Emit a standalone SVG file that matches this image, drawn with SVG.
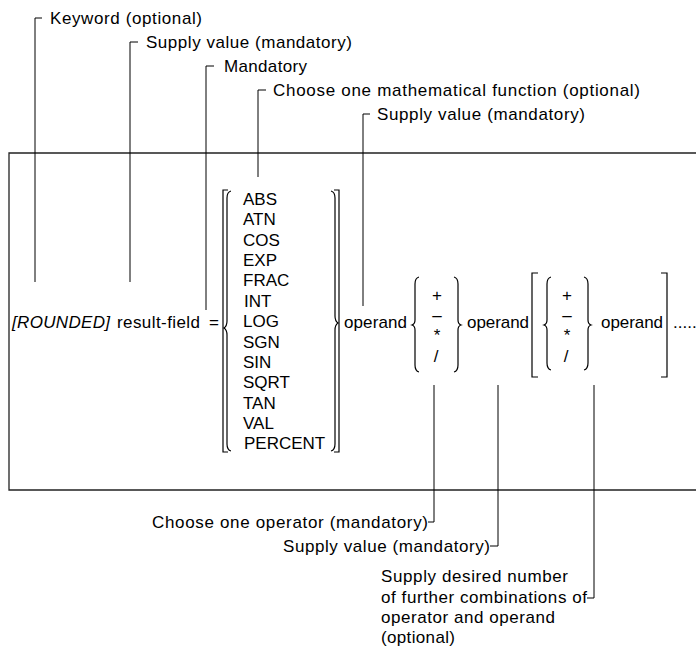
<svg xmlns="http://www.w3.org/2000/svg" width="696" height="654" viewBox="0 0 696 654">
<style>
  text { font-family: "Liberation Sans", Arial, sans-serif; font-size: 17px; fill: #000; }
  .it { font-style: italic; }
  .mid { text-anchor: middle; }
  .ln { stroke: #000; stroke-width: 1; fill: none; }
  .frame { stroke: #222; stroke-width: 1.3; fill: none; }
  .br { stroke: #000; stroke-width: 1.2; fill: none; }
</style>
<rect width="696" height="654" fill="#fff"/>

<g id="frame">
  <path class="frame" d="M700,153 H9 V490 H700"/>
</g>

<g id="connectors">
  <path class="ln" d="M42,18 H35 V282"/>
  <path class="ln" d="M138,42 H130 V282"/>
  <path class="ln" d="M214,66 H206 V310"/>
  <path class="ln" d="M266,90 H258 V177"/>
  <path class="ln" d="M370,114 H363 V306"/>
  <path class="ln" d="M434,385 V522 H428"/>
  <path class="ln" d="M498,385 V546 H490"/>
  <path class="ln" d="M594,385 V598 H587"/>
</g>

<g id="label-keyword"><text x="50" y="24" textLength="152" lengthAdjust="spacing">Keyword (optional)</text></g>
<g id="label-supply-1"><text x="146" y="48" textLength="206" lengthAdjust="spacing">Supply value (mandatory)</text></g>
<g id="label-mandatory"><text x="224" y="72" textLength="83" lengthAdjust="spacing">Mandatory</text></g>
<g id="label-function"><text x="273" y="96" textLength="367" lengthAdjust="spacing">Choose one mathematical function (optional)</text></g>
<g id="label-supply-2"><text x="377" y="120" textLength="208" lengthAdjust="spacing">Supply value (mandatory)</text></g>

<g id="syntax-result">
  <text x="12" y="328" class="it" textLength="98" lengthAdjust="spacing">[ROUNDED]</text>
  <text x="117" y="328" textLength="83" lengthAdjust="spacing">result-field</text>
  <text x="209" y="328">=</text>
</g>

<g id="syntax-functions">
  <path class="br" d="M228,190 H223 V452 H228"/>
  <path class="br" d="M231,191 Q227,192 227,198 L227,321 Q227,326 224,328 Q227,330 227,335 L227,444 Q227,450 231,451"/>
  <path class="br" d="M331,191 Q335,192 335,198 L335,316 Q335,321 338,323 Q335,325 335,330 L335,444 Q335,450 331,451"/>
  <path class="br" d="M334,190 H339 V452 H334"/>
  <text x="243" y="205">ABS</text>
  <text x="243" y="225.4">ATN</text>
  <text x="243" y="245.7">COS</text>
  <text x="243" y="266">EXP</text>
  <text x="243" y="286.4">FRAC</text>
  <text x="244" y="306.8">INT</text>
  <text x="243" y="327.2">LOG</text>
  <text x="243" y="347.5">SGN</text>
  <text x="243" y="367.8">SIN</text>
  <text x="243" y="388.2">SQRT</text>
  <text x="243" y="408.6">TAN</text>
  <text x="243" y="429">VAL</text>
  <text x="244" y="449.3">PERCENT</text>
</g>

<g id="syntax-operand-1"><text x="344" y="328" textLength="63" lengthAdjust="spacing">operand</text></g>

<g id="syntax-operator-1">
  <path class="br" d="M419,277 Q415,278 415,284 L415,320 Q415,324 412,325 Q415,326 415,330 L415,365 Q415,371 419,372"/>
  <path class="br" d="M454,277 Q458,278 458,284 L458,320 Q458,324 461,325 Q458,326 458,330 L458,365 Q458,371 454,372"/>
  <text x="437" y="301" class="mid">+</text>
  <text x="437" y="321" class="mid">–</text>
  <text x="437" y="341" class="mid">*</text>
  <text x="436" y="362" class="mid">/</text>
</g>

<g id="syntax-operand-2"><text x="467" y="328" textLength="62" lengthAdjust="spacing">operand</text></g>

<g id="syntax-repeat">
  <path class="br" d="M538,273 H532 V377 H538"/>
  <path class="br" d="M661,273 H667 V377 H661"/>
  <path class="br" d="M551,277 Q547,278 547,284 L547,320 Q547,324 544,325 Q547,326 547,330 L547,363 Q547,369 551,370"/>
  <path class="br" d="M584,277 Q588,278 588,284 L588,320 Q588,324 591,325 Q588,326 588,330 L588,363 Q588,369 584,370"/>
  <text x="567" y="301" class="mid">+</text>
  <text x="567" y="321" class="mid">–</text>
  <text x="567" y="341" class="mid">*</text>
  <text x="566" y="362" class="mid">/</text>
  <text x="601" y="328" textLength="62" lengthAdjust="spacing">operand</text>
  <text x="673" y="328">.....</text>
</g>

<g id="label-operator"><text x="152" y="528" textLength="276" lengthAdjust="spacing">Choose one operator (mandatory)</text></g>
<g id="label-supply-3"><text x="283" y="552" textLength="207" lengthAdjust="spacing">Supply value (mandatory)</text></g>
<g id="label-further">
  <text x="381" y="582" textLength="187" lengthAdjust="spacing">Supply desired number</text>
  <text x="381" y="603" textLength="206" lengthAdjust="spacing">of further combinations of</text>
  <text x="381" y="623" textLength="174" lengthAdjust="spacing">operator and operand</text>
  <text x="381" y="643" textLength="74" lengthAdjust="spacing">(optional)</text>
</g>
</svg>
